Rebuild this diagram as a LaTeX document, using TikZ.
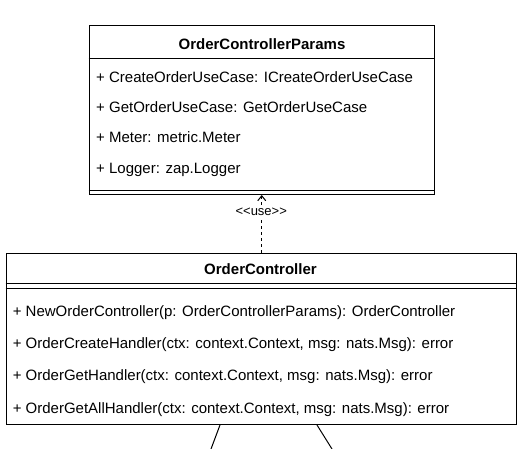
\documentclass[tikz,border=0pt]{standalone}
\usepackage{fontspec}
\setmainfont{Liberation Sans}
\usetikzlibrary{arrows.meta}
\begin{document}
\begin{tikzpicture}[x=1pt,y=-1pt,
  box/.style={draw=black, line width=1pt, rectangle, inner sep=0pt, anchor=north west},
  member/.style={anchor=base west, inner sep=0pt, font=\fontsize{15}{18}\selectfont},
  ctitle/.style={anchor=base, inner sep=0pt, font=\fontsize{15}{18}\selectfont\bfseries},
  sepline/.style={draw=black, line width=1pt},
  dep/.style={draw=black, line width=1pt, dash pattern=on 3pt off 3pt, -{Straight Barb[length=5pt,width=8pt]}},
  lbl/.style={fill=white, inner sep=1pt, font=\fontsize{13}{15}\selectfont}
]
\useasboundingbox (0,0) rectangle (523,449);
% class boxes
\node[box, minimum width=345.5pt, minimum height=168.5pt] (params) at (88.5,25.5) {};
\node[box, minimum width=510.5pt, minimum height=171pt] (ctrl) at (5.5,253) {};
% compartments
\draw[sepline] ([yshift=-33.5pt]params.north west) -- ([yshift=-33.5pt]params.north east);
\draw[sepline] ([yshift=4.5pt]params.south west) -- ([yshift=4.5pt]params.south east);
\draw[sepline] ([yshift=-31pt]ctrl.north west) -- ([yshift=-31pt]ctrl.north east);
\draw[sepline] ([yshift=-36pt]ctrl.north west) -- ([yshift=-36pt]ctrl.north east);
% texts
\node[ctitle] (ptitle) at (262,49.5) {OrderControllerParams};
\node[member] (p1) at (96,82.5) {+ CreateOrderUseCase: ICreateOrderUseCase};
\node[member] (p2) at (96,113) {+ GetOrderUseCase: GetOrderUseCase};
\node[member] (p3) at (96,143) {+ Meter: metric.Meter};
\node[member] (p4) at (96,173.5) {+ Logger: zap.Logger};
\node[ctitle] (ctitle) at (260.5,274.5) {OrderController};
\node[member] (c1) at (12.6,316.5) {+ NewOrderController(p: OrderControllerParams): OrderController};
\node[member] (c2) at (12.6,349) {+ OrderCreateHandler(ctx: context.Context, msg: nats.Msg): error};
\node[member] (c3) at (12.6,381) {+ OrderGetHandler(ctx: context.Context, msg: nats.Msg): error};
\node[member] (c4) at (12.6,413.5) {+ OrderGetAllHandler(ctx: context.Context, msg: nats.Msg): error};
% dependency
\draw[dep] (ctrl.north -| params.south) -- (params.south);
\node[lbl] (use) at (261.25,212) {<\kern0pt<use>\kern0pt>};
% outgoing lines
\coordinate (l1) at (211,449);
\coordinate (l2) at (332,449);
\draw[sepline] ([xshift=214.5pt]ctrl.south west) -- (l1);
\draw[sepline] ([xshift=311.5pt]ctrl.south west) -- (l2);
\end{tikzpicture}
\end{document}
